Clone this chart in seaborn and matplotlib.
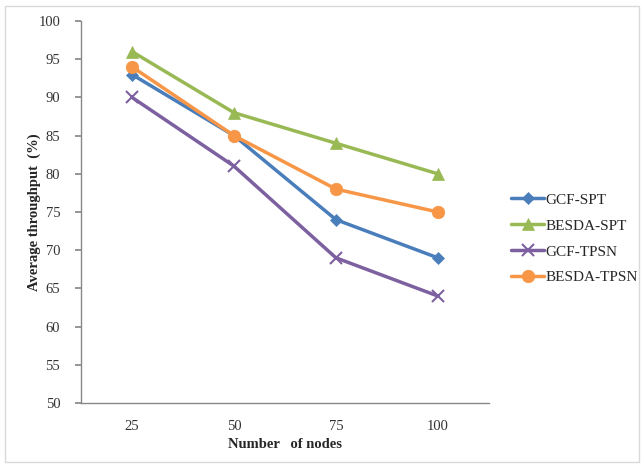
import matplotlib
matplotlib.use("Agg")
import matplotlib.pyplot as plt
import seaborn as sns
import pandas as pd
from matplotlib.patches import Rectangle

nodes = ["25", "50", "75", "100"]
gcf_spt = [93, 85, 74, 69]
besda_spt = [96, 88, 84, 80]
gcf_tpsn = [90, 81, 69, 64]
besda_tpsn = [94, 85, 78, 75]

series = ["GCF-SPT", "BESDA-SPT", "GCF-TPSN", "BESDA-TPSN"]
values = [gcf_spt, besda_spt, gcf_tpsn, besda_tpsn]
colors = ["#4A7EBB", "#98B954", "#7D60A0", "#F79646"]
markers = ["D", "^", "x", "o"]
msizes = [6, 8, 9, 9]

rows = []
for s, vals in zip(series, values):
    for i, v in enumerate(vals):
        rows.append({"pos": i, "Series": s, "val": v})
df = pd.DataFrame(rows)

sns.set_theme(style="white")
plt.rcParams["font.family"] = ["Liberation Serif", "DejaVu Serif"]

fig = plt.figure(figsize=(6.44, 4.68), dpi=100)
ax = fig.add_axes([0.126, 0.139, 0.633, 0.816])

for s, c, m, ms in zip(series, colors, markers, msizes):
    sub = df[df["Series"] == s]
    sns.lineplot(data=sub, x="pos", y="val", ax=ax, color=c, marker=m,
                 markersize=ms, linewidth=2.5, label=s,
                 markeredgecolor=c, markeredgewidth=1.5 if m == "x" else 0.5)

ax.set_xlim(-0.5, 3.5)
ax.set_ylim(50, 100)
ax.set_yticks(range(50, 101, 5))
ax.set_xticks(range(len(nodes)))
ax.set_xticklabels(nodes)
ax.tick_params(axis="y", which="both", left=True, length=4, color="#888888",
               labelsize=10.5, pad=11, labelcolor="#333333")
ax.tick_params(axis="x", bottom=False, labelsize=10.5, pad=6, labelcolor="#333333")
for sp in ["top", "right"]:
    ax.spines[sp].set_visible(False)
for sp in ["left", "bottom"]:
    ax.spines[sp].set_color("#888888")
    ax.spines[sp].set_linewidth(1)

ax.set_xlabel("Number   of nodes", fontsize=10.5, fontweight="bold", labelpad=4)
ax.set_ylabel("Average throughput  (%)", fontsize=10.5, fontweight="bold")
ax.yaxis.set_label_coords(-0.098, 0.5)

leg = ax.legend(loc="center left", bbox_to_anchor=(1.02, 0.43), frameon=False,
                fontsize=11, handlelength=2.2, handletextpad=0.1,
                labelspacing=0.8)

fig.patches.append(Rectangle((0.008, 0.012), 0.984, 0.976, transform=fig.transFigure,
                             fill=False, edgecolor="#D9D9D9", linewidth=1))

fig.savefig("out.png", dpi=100)
